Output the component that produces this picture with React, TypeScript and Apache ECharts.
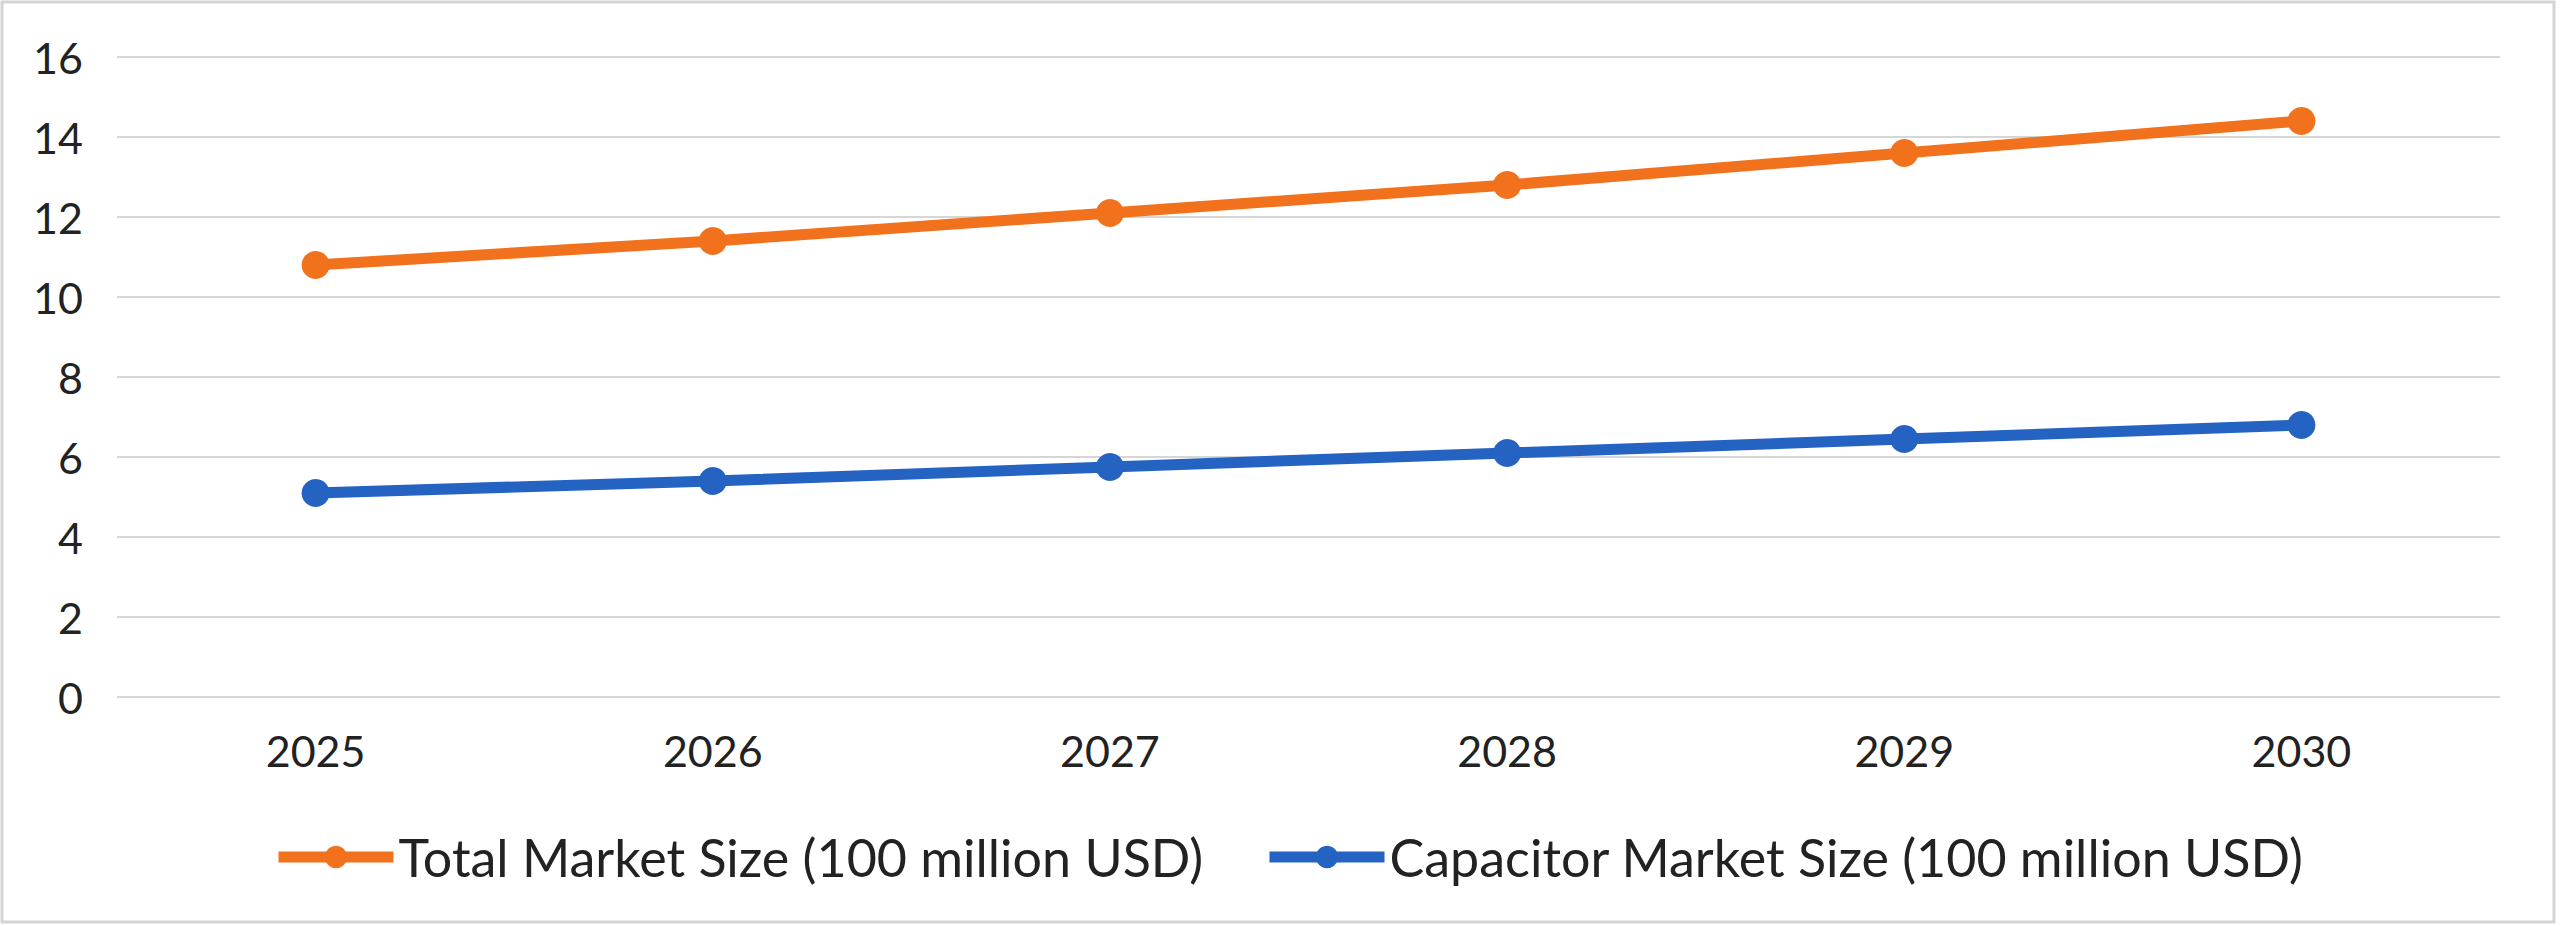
import React, { useEffect, useRef } from "react";
import * as echarts from "echarts";

const categories = ["2025", "2026", "2027", "2028", "2029", "2030"];
const totalMarket = [10.8, 11.4, 12.1, 12.8, 13.6, 14.4];
const capacitorMarket = [5.1, 5.4, 5.75, 6.1, 6.45, 6.8];
const seriesNames = [
  "Total Market Size (100 million USD)",
  "Capacitor Market Size (100 million USD)",
];

const FONT = "Lato, 'Open Sans', sans-serif";
const ORANGE = "#F2711C";
const BLUE = "#2563C2";

export default function App() {
  const ref = useRef<HTMLDivElement>(null);

  useEffect(() => {
    if (!ref.current) return;
    const chart = echarts.init(ref.current, undefined, { renderer: "svg" });
    const legendCommon = {
      top: 826,
      itemWidth: 115,
      itemHeight: 28,
      lineStyle: { width: 11 },
      textStyle: { fontSize: 52, color: "#222", fontFamily: FONT },
    };
    chart.setOption({
      animation: false,
      backgroundColor: "#ffffff",
      textStyle: { fontFamily: FONT },
      grid: { left: 117, right: 60, top: 57, bottom: 229, containLabel: false },
      graphic: [
        {
          type: "rect",
          shape: { x: 2, y: 2, width: 2552, height: 920 },
          style: { fill: "none", stroke: "#d4d4d4", lineWidth: 3 },
          silent: true,
        },
      ],
      legend: [
        { ...legendCommon, data: [seriesNames[0]], left: 268 },
        { ...legendCommon, data: [seriesNames[1]], left: 1259 },
      ],
      xAxis: {
        type: "category",
        data: categories,
        boundaryGap: true,
        axisLine: { show: false },
        axisTick: { show: false },
        axisLabel: { fontSize: 43, color: "#222", margin: 32, fontFamily: FONT },
      },
      yAxis: {
        type: "value",
        min: 0,
        max: 16,
        interval: 2,
        axisLine: { show: false },
        axisTick: { show: false },
        axisLabel: { fontSize: 43, color: "#222", margin: 34, fontFamily: FONT },
        splitLine: { lineStyle: { color: "#d6d6d6", width: 2 } },
      },
      series: [
        {
          name: seriesNames[0],
          type: "line",
          data: totalMarket,
          symbol: "circle",
          symbolSize: 28,
          lineStyle: { color: ORANGE, width: 11 },
          itemStyle: { color: ORANGE },
        },
        {
          name: seriesNames[1],
          type: "line",
          data: capacitorMarket,
          symbol: "circle",
          symbolSize: 28,
          lineStyle: { color: BLUE, width: 11 },
          itemStyle: { color: BLUE },
        },
      ],
    });
    return () => chart.dispose();
  }, []);

  return (
    <div
      ref={ref}
      style={{ position: "fixed", left: 0, top: 0, width: 2560, height: 926 }}
    />
  );
}
